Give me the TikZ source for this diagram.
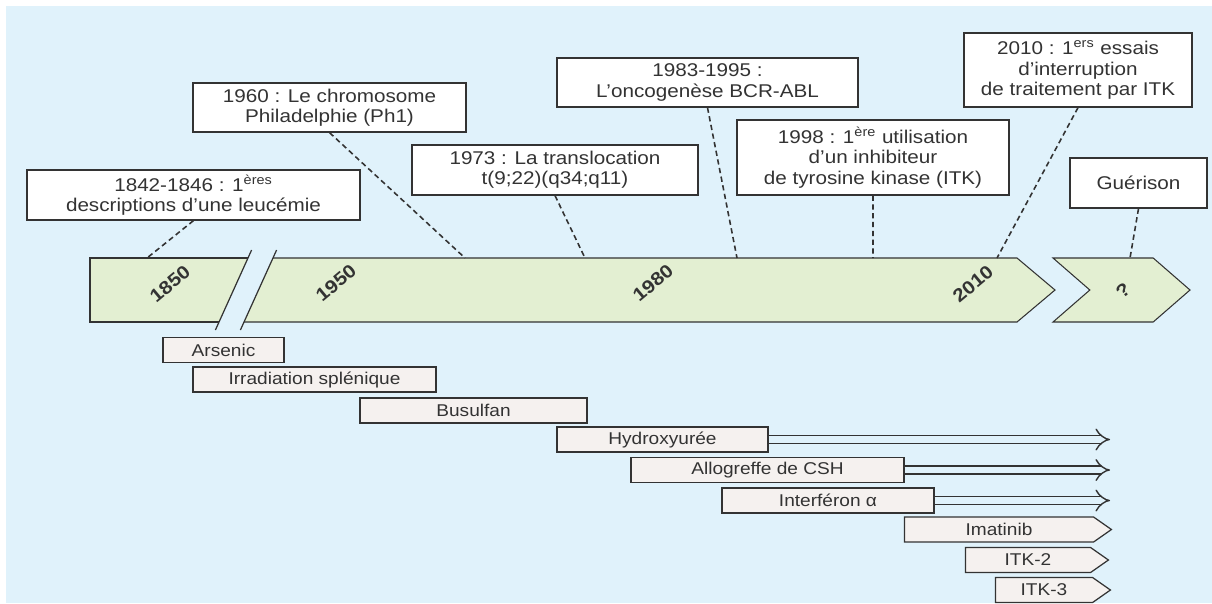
\documentclass[tikz,border=0pt]{standalone}
\usepackage{fontspec}
\setmainfont{Liberation Sans}[FakeStretch=1.12]
\usepackage{tikz}
\usetikzlibrary{positioning,shapes.symbols,arrows.meta}
\definecolor{sky}{HTML}{E0F2FB}
\definecolor{band}{HTML}{E3EFD2}
\definecolor{bar}{HTML}{F5F1EF}
\definecolor{ink}{HTML}{333333}

\begin{document}
\begin{tikzpicture}[x=0.02cm,y=-0.02cm,
    event/.style={draw=ink,fill=white,line width=0.7pt,align=center,text=ink,
      font=\fontsize{10.5}{11.5}\selectfont,inner sep=0pt},
    lead/.style={draw=ink,dash pattern=on 3pt off 2pt,line width=0.9pt},
    year/.style={rotate=40,font=\fontsize{10.5}{12}\selectfont\bfseries,text=ink},
    drug/.style={draw=ink,fill=bar,line width=0.7pt,text=ink,
      font=\fontsize{9.7}{11}\selectfont,minimum height=0.5cm,inner sep=0pt},
    drugtip/.style={drug,signal,signal to=east,signal pointer angle=70},
    goon/.style={draw=ink,double=sky,double distance=3.6pt,line width=0.8pt,
      -{Implies[length=5pt]}}]
      % frame
      \fill[sky] (6,6) rectangle (1212,603);
      \useasboundingbox (0,0) rectangle (1212,603);

      % band
      \fill[band] (90,258) -- (248,258) -- (219,322) -- (90,322) -- cycle;
      \fill[band] (273,258) -- (1017,258) -- (1055,290) -- (1017,322) -- (244,322) -- cycle;
      \draw[ink,line width=0.6pt] (248,258) -- (90,258) -- (90,322) -- (219,322);
      \draw[ink,line width=0.6pt] (273,258) -- (1017,258) -- (1055,290) -- (1017,322) -- (244,322);
      \draw[ink,line width=0.7pt] (251.6,250) -- (215.4,330) (276.6,250) -- (240.4,330);
      \node[signal,signal from=west,signal to=east,signal pointer angle=82,
        fill=band,draw=ink,line width=0.6pt,minimum width=2.74cm,minimum height=1.28cm,
        inner sep=0pt] (future) at (1121.5,290) {};

      \node[year] (y1850) at (170,284) {1850};
      \node[year] (y1950) at (336,283) {1950};
      \node[year] (y1980) at (653,283) {1980};
      \node[year] (y2010) at (973,284) {2010};
      \node[year] (qmark) at (1123,290) {?};

      % events
      \node[event,minimum width=6.66cm,minimum height=1cm] (ev1842) at (193.5,195)
        {1842-1846 : 1\textsuperscript{ères}\\descriptions d’une leucémie};
      \node[event,minimum width=5.46cm,minimum height=0.98cm] (ev1960) at (329.5,107.5)
        {1960 : Le chromosome\\Philadelphie (Ph1)};
      \node[event,minimum width=5.72cm,minimum height=1cm] (ev1973) at (555,170)
        {1973 : La translocation\\t(9;22)(q34;q11)};
      \node[event,minimum width=6.02cm,minimum height=0.98cm] (ev1983) at (707.5,82.5)
        {1983-1995 :\\L’oncogenèse BCR-ABL};
      \node[event,minimum width=5.44cm,minimum height=1.5cm] (ev1998) at (873,157.5)
        {1998 : 1\textsuperscript{ère} utilisation\\d’un inhibiteur\\de tyrosine kinase (ITK)};
      \node[event,minimum width=4.56cm,minimum height=1.48cm] (ev2010) at (1078,70)
        {2010 : 1\textsuperscript{ers} essais\\d’interruption\\de traitement par ITK};
      \node[event,minimum width=2.74cm,minimum height=1cm] (cure) at (1138.5,183) {Guérison};

      \coordinate (t1842) at (147,258);
      \coordinate (t1960) at (465,258);
      \coordinate (t1973) at (585,258);
      \coordinate (t1983) at (737,258);
      \coordinate (t1998) at (873,258);
      \coordinate (t2010) at (997,258);
      \coordinate (tcure) at (1130,258);

      \draw[lead] (ev1842.south) -- (t1842) (ev1960.south) -- (t1960)
        (ev1973.south) -- (t1973) (ev1983.south) -- (t1983)
        (ev1998.south) -- (t1998) (ev2010.south) -- (t2010) (cure.south) -- (tcure);

      % treatments
      \node[drug,minimum width=2.42cm] (arsenic) at (223.5,350) {Arsenic};
      \node[drug,minimum width=4.86cm] (irrad) at (314.5,379.5) {Irradiation splénique};
      \node[drug,minimum width=4.54cm] (busulfan) at (473.5,410.5) {Busulfan};
      \node[drug,minimum width=4.22cm] (hydroxy) at (662.5,439.5) {Hydroxyurée};
      \node[drug,minimum width=5.46cm] (allo) at (767.5,470) {Allogreffe de CSH};
      \node[drug,minimum width=4.24cm] (ifn) at (828,500.5) {Interféron α};
      \node[drugtip,minimum width=4.14cm] (imatinib) at (999,529.5) {Imatinib};
      \node[drugtip,minimum width=2.86cm] (itk2) at (1028,560) {ITK-2};
      \node[drugtip,minimum width=2.30cm] (itk3) at (1044,590) {ITK-3};

      \coordinate (hydroxyEnd) at (1110,439.5);
      \coordinate (alloEnd) at (1110,470);
      \coordinate (ifnEnd) at (1110,500.5);
      \draw[goon] (hydroxy.east) -- (hydroxyEnd);
      \draw[goon] (allo.east) -- (alloEnd);
      \draw[goon] (ifn.east) -- (ifnEnd);
    \end{tikzpicture}
\end{document}
